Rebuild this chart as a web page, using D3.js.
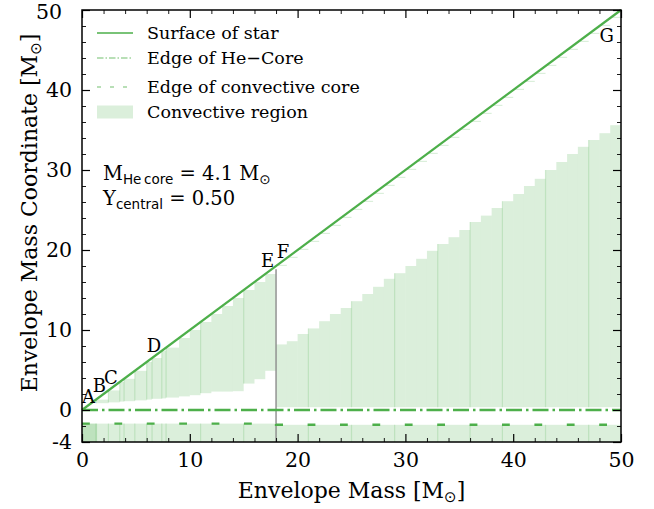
<!DOCTYPE html>
<html>
<head>
<meta charset="utf-8">
<script src="https://cdn.jsdelivr.net/npm/d3@7"></script>
<style>
  body { margin: 0; background: #fff; }
  svg text { font-family: "DejaVu Serif", serif; fill: #000; }
</style>
</head>
<body>
<svg id="chart" width="654" height="509"></svg>
<script>
// ---------------- data ----------------
const xMajor = [0, 10, 20, 30, 40, 50];
const yMajor = [-4, 0, 10, 20, 30, 40, 50];
const yTickLabels = ["-4", "0", "10", "20", "30", "40", "50"];

// Low-mass models: bin edges (Msun) and bottom of the convective envelope in each bin;
// the envelope reaches up to the surface at the left edge of every bin.
const innerEdges = [0, 0.5, 1.3, 2.45, 3.5, 3.9, 4.9, 6.0, 6.5, 7.4, 7.8, 9, 10, 11, 12, 13, 14, 15, 16, 17, 18];
const innerBase  = [0.7, 0.75, 0.85, 0.95, 1.05, 1.1, 1.2, 1.3, 1.4, 1.45, 1.55, 1.7, 1.85, 2.1, 2.3, 2.3, 2.35, 3.3, 3.85, 4.9];

// High-mass models (1 Msun bins starting at 18): top of the convective region
const outerMass = d3.range(18, 50);
const outerTop  = [8.2, 8.6, 9.5, 10.2, 11.1, 12.0, 12.75, 13.6, 14.5, 15.4, 16.4, 17.1, 18.0, 18.9, 19.9, 20.75,
                   21.6, 22.5, 23.5, 24.3, 25.25, 26.1, 27.0, 28.0, 28.9, 30.0, 31.0, 32.0, 32.9, 33.75, 34.6, 35.6];
const outerBase = 0.35;
const shellThickness = 0.15;        // thin convective shell under the surface

// Convective core (below the He-core edge)
const coreTopInner = -1.7;
const coreTopOuter = -1.85;
const coreOverlap = [0, 1.4];
const transitionMass = 18;
const transitionTop = 17.6;

// Positions where neighbouring model bins overlap
const seams = [1.3, 2.45, 3.5, 3.9, 4.9, 6.0, 6.5, 7.4, 7.8, 11.0, 15.0, 21, 25, 29, 33, 36, 39, 43, 47];

const pointLabels = [
  { t: "A", x: 0.0,  y: 0.9 },
  { t: "B", x: 1.0,  y: 2.3 },
  { t: "C", x: 2.05, y: 3.3 },
  { t: "D", x: 6.0,  y: 7.3 },
  { t: "E", x: 16.6, y: 17.9 },
  { t: "F", x: 18.06, y: 19.0 },
  { t: "G", x: 48.0, y: 46.0 }
];

// ---------------- drawing ----------------
const green = "#4daf4a";
const fillC = "rgba(77,175,74,0.2)";
const svg = d3.select("#chart");
const x = d3.scaleLinear().domain([0, 50]).range([82, 621]);
const y = d3.scaleLinear().domain([-4, 50]).range([442, 10]);

const g = svg.append("g");

// convective core band
g.append("rect").attr("x", x(0)).attr("width", x(transitionMass) - x(0))
  .attr("y", y(coreTopInner)).attr("height", y(-4) - y(coreTopInner)).attr("fill", fillC);
g.append("rect").attr("x", x(transitionMass)).attr("width", x(50) - x(transitionMass))
  .attr("y", y(coreTopOuter)).attr("height", y(-4) - y(coreTopOuter)).attr("fill", fillC);
g.append("rect").attr("x", x(coreOverlap[0])).attr("width", x(coreOverlap[1]) - x(coreOverlap[0]))
  .attr("y", y(coreTopInner)).attr("height", y(-4) - y(coreTopInner)).attr("fill", fillC);

// low-mass envelopes
const innerBins = innerBase.map((b, i) => ({ x0: innerEdges[i], x1: innerEdges[i + 1], lo: b, hi: innerEdges[i] }))
  .filter(d => d.hi > d.lo);
g.selectAll(".inner").data(innerBins).join("rect")
  .attr("x", d => x(d.x0)).attr("width", d => x(d.x1) - x(d.x0))
  .attr("y", d => y(d.hi)).attr("height", d => y(d.lo) - y(d.hi)).attr("fill", fillC);

// high-mass envelopes
const outerBins = outerMass.map((m, i) => ({ x0: m, x1: m + 1, lo: outerBase, hi: outerTop[i] }));
g.selectAll(".outer").data(outerBins).join("rect")
  .attr("x", d => x(d.x0)).attr("width", d => x(d.x1) - x(d.x0))
  .attr("y", d => y(d.hi)).attr("height", d => y(d.lo) - y(d.hi)).attr("fill", fillC);

// surface shells
g.selectAll(".shell").data(outerMass).join("rect")
  .attr("x", m => x(m)).attr("width", m => x(m + 1) - x(m))
  .attr("y", m => y(m + shellThickness)).attr("height", m => y(m) - y(m + shellThickness)).attr("fill", fillC);

// overlap seams
function spanAt(s) {
  if (s < transitionMass) {
    const d = innerBins.find(b => s >= b.x0 && s < b.x1);
    return [[-4, coreTopInner], d ? [d.lo, d.hi] : null];
  }
  const d = outerBins.find(b => s >= b.x0 && s < b.x1);
  return [[-4, coreTopOuter], [d.lo, d.hi]];
}
seams.forEach(s => {
  spanAt(s).filter(Boolean).forEach(([a, b]) => {
    g.append("line").attr("x1", x(s)).attr("x2", x(s)).attr("y1", y(a)).attr("y2", y(b))
      .attr("stroke", fillC).attr("stroke-width", 1.2);
  });
});

// transition marker
g.append("line").attr("x1", x(transitionMass)).attr("x2", x(transitionMass))
  .attr("y1", y(-4)).attr("y2", y(transitionTop)).attr("stroke", "#8c8c8c").attr("stroke-width", 1.4);

// edge of convective core
const coreEdge = [[0, coreTopInner], [transitionMass, coreTopInner], [transitionMass, coreTopOuter], [50, coreTopOuter]];
g.append("path").attr("d", d3.line().x(d => x(d[0])).y(d => y(d[1]))(coreEdge))
  .attr("fill", "none").attr("stroke", green).attr("stroke-width", 2.4).attr("stroke-dasharray", "7.8,24.6");

// edge of He core
g.append("line").attr("x1", x(0)).attr("x2", x(50)).attr("y1", y(0)).attr("y2", y(0))
  .attr("stroke", green).attr("stroke-width", 2.4).attr("stroke-dasharray", "16,4,2.5,4");

// surface of star
g.append("line").attr("x1", x(0)).attr("x2", x(50)).attr("y1", y(0)).attr("y2", y(50))
  .attr("stroke", green).attr("stroke-width", 2.2);

// axes: inward ticks on all four sides
function ticks(axisFn, pos, values, size, labels) {
  const a = axisFn.tickValues(values).tickSize(-size).tickPadding(10);
  a.tickFormat(labels ? (d, i) => labels[i] : () => "");
  const ax = svg.append("g").attr("transform", pos).call(a);
  ax.select(".domain").remove();
  ax.selectAll(".tick line").attr("stroke", "#000").attr("stroke-width", size > 5 ? 1.2 : 0.9);
  ax.selectAll("text").style("font-family", "DejaVu Serif").style("font-size", "20.5px").attr("fill", "#000");
  return ax;
}
const xMinor = d3.range(0, 51, 2).filter(v => v % 10 !== 0);
const yMinor = d3.range(-4, 51, 2).filter(v => v % 10 !== 0 && v !== -4);
ticks(d3.axisBottom(x), `translate(0,${y(-4)})`, xMajor, 8, xMajor.map(String));
ticks(d3.axisBottom(x), `translate(0,${y(-4)})`, xMinor, 4);
ticks(d3.axisTop(x), `translate(0,${y(50)})`, xMajor, 8);
ticks(d3.axisTop(x), `translate(0,${y(50)})`, xMinor, 4);
const yAx = ticks(d3.axisLeft(y), `translate(${x(0)},0)`, yMajor, 8, yTickLabels);
yAx.selectAll(".tick text").filter(d => d === 50).attr("dx", -10).attr("dy", "0.42em");
ticks(d3.axisLeft(y), `translate(${x(0)},0)`, yMinor, 4);
ticks(d3.axisRight(y), `translate(${x(50)},0)`, yMajor, 8);
ticks(d3.axisRight(y), `translate(${x(50)},0)`, yMinor, 4);

svg.append("rect").attr("x", x(0)).attr("y", y(50)).attr("width", x(50) - x(0)).attr("height", y(-4) - y(50))
  .attr("fill", "none").attr("stroke", "#000").attr("stroke-width", 1.5);

// point labels
svg.selectAll(".pl").data(pointLabels).join("text")
  .attr("x", d => x(d.x)).attr("y", d => y(d.y)).style("font-size", "18px").text(d => d.t);

// axis titles
const sun = "\u2299";
const xt = svg.append("text").attr("x", 351.5).attr("y", 498).attr("text-anchor", "middle").style("font-size", "22px");
xt.append("tspan").text("Envelope Mass [M");
xt.append("tspan").text(sun).style("font-family", "DejaVu Sans").style("font-size", "15px").attr("dy", 4);
xt.append("tspan").text("]").attr("dy", -4);

const yt = svg.append("text").attr("transform", "translate(37,213) rotate(-90)").attr("text-anchor", "middle").style("font-size", "22px");
yt.append("tspan").text("Envelope Mass Coordinate [M");
yt.append("tspan").text(sun).style("font-family", "DejaVu Sans").style("font-size", "15px").attr("dy", 4);
yt.append("tspan").text("]").attr("dy", -4);

// model annotation
const a1 = svg.append("text").attr("x", 103).attr("y", 180).style("font-size", "19.5px");
a1.append("tspan").text("M");
a1.append("tspan").text("He\u2009core").style("font-family", "DejaVu Sans").style("font-size", "13.5px").attr("dy", 4);
a1.append("tspan").text(" = 4.1 M").attr("dy", -4);
a1.append("tspan").text(sun).style("font-family", "DejaVu Sans").style("font-size", "13.5px").attr("dy", 4);
const a2 = svg.append("text").attr("x", 103).attr("y", 205).style("font-size", "19.5px");
a2.append("tspan").text("Y");
a2.append("tspan").text("central").style("font-family", "DejaVu Sans").style("font-size", "13.5px").attr("dy", 4);
a2.append("tspan").text(" = 0.50").attr("dy", -4);

// legend
const legend = [
  { t: "Surface of star", kind: "solid" },
  { t: "Edge of He\u2212Core", kind: "dashdot" },
  { t: "Edge of convective core", kind: "dashed" },
  { t: "Convective region", kind: "fill" }
];
const legY = [33, 58, 87, 112];
legend.forEach((d, i) => {
  const yy = legY[i];
  if (d.kind === "fill") {
    svg.append("rect").attr("x", 97).attr("y", yy - 6.5).attr("width", 36).attr("height", 13).attr("fill", fillC);
  } else {
    svg.append("line").attr("x1", 97).attr("x2", 133).attr("y1", yy).attr("y2", yy)
      .attr("stroke", green).attr("stroke-width", d.kind === "solid" ? 1.3 : 1.2)
      .attr("stroke-opacity", d.kind === "solid" ? 1 : 0.8)
      .attr("stroke-dasharray", d.kind === "dashdot" ? "6.5,2,1.5,2" : d.kind === "dashed" ? "4,9" : null);
  }
  svg.append("text").attr("x", 147).attr("y", yy + 6).style("font-size", "17.5px").text(d.t);
});
</script>
</body>
</html>
